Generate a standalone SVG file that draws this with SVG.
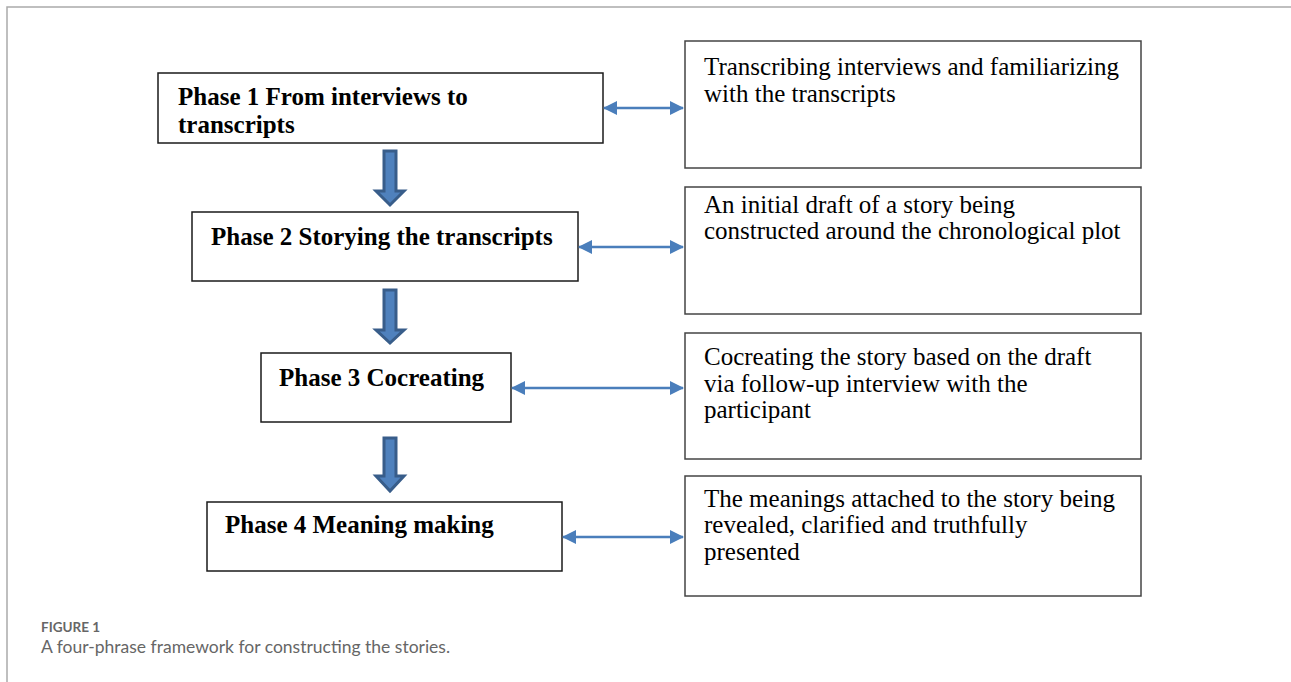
<svg xmlns="http://www.w3.org/2000/svg" width="1291" height="682" viewBox="0 0 1291 682">
<defs>
<style>
.box{fill:#fff;stroke:#1a1a1a;stroke-width:1.5}
.rbox{fill:#fff;stroke:#444;stroke-width:1.5}
.ph{font-family:"Liberation Serif","Times New Roman",serif;font-weight:bold;font-size:25px;fill:#000}
.desc{font-family:"Liberation Serif","Times New Roman",serif;font-size:25px;fill:#000}
.conn{stroke:#4a7ebb;stroke-width:2.5;fill:none;marker-start:url(#ah);marker-end:url(#ah)}
.down{fill:#4f81bd;stroke:#385d8a;stroke-width:3;stroke-linejoin:miter}
.cap{font-family:Lato,"Open Sans",sans-serif;fill:#666}
</style>
<marker id="ah" viewBox="0 0 14 14" refX="13" refY="7" markerWidth="14" markerHeight="14" markerUnits="userSpaceOnUse" orient="auto-start-reverse">
<path d="M0,0 L14,7 L0,14 Z" fill="#4a7ebb"/>
</marker>
</defs>
<rect width="1291" height="682" fill="#fff"/>
<path d="M7,682 V7 H1291" fill="none" stroke="#aaa" stroke-width="1.5"/>

<g id="phase1">
<rect class="box" x="158" y="73" width="445" height="70"/>
<text class="ph" x="178" y="105">Phase 1 From interviews to</text>
<text class="ph" x="178" y="133">transcripts</text>
</g>
<g id="desc1">
<rect class="rbox" x="685" y="41" width="456" height="127"/>
<text class="desc" x="704" y="75">Transcribing interviews and familiarizing</text>
<text class="desc" x="704" y="102">with the transcripts</text>
</g>
<g id="phase2">
<rect class="box" x="192" y="212" width="386" height="69"/>
<text class="ph" x="211" y="245">Phase 2 Storying the transcripts</text>
</g>
<g id="desc2">
<rect class="rbox" x="685" y="187" width="456" height="127"/>
<text class="desc" x="704" y="213">An initial draft of a story being</text>
<text class="desc" x="704" y="239">constructed around the chronological plot</text>
</g>
<g id="phase3">
<rect class="box" x="261" y="353" width="250" height="69"/>
<text class="ph" x="279" y="386">Phase 3 Cocreating</text>
</g>
<g id="desc3">
<rect class="rbox" x="685" y="333" width="456" height="126"/>
<text class="desc" x="704" y="365">Cocreating the story based on the draft</text>
<text class="desc" x="704" y="392">via follow-up interview with the</text>
<text class="desc" x="704" y="418">participant</text>
</g>
<g id="phase4">
<rect class="box" x="207" y="502" width="355" height="69"/>
<text class="ph" x="225" y="533">Phase 4 Meaning making</text>
</g>
<g id="desc4">
<rect class="rbox" x="685" y="476" width="456" height="120"/>
<text class="desc" x="704" y="507">The meanings attached to the story being</text>
<text class="desc" x="704" y="533">revealed, clarified and truthfully</text>
<text class="desc" x="704" y="560">presented</text>
</g>

<g id="connectors">
<path class="conn" d="M604,108 H683"/>
<path class="conn" d="M579,247 H683"/>
<path class="conn" d="M512,388 H683"/>
<path class="conn" d="M563,537 H683"/>
<polygon class="down" points="384,151 396,151 396,191 404,191 390,205 376,191 384,191"/>
<polygon class="down" points="384,290 396,290 396,330 404,330 390,343 376,330 384,330"/>
<polygon class="down" points="384,438 396,438 396,476 404,476 390,491 376,476 384,476"/>
</g>

<g id="caption">
<text class="cap" x="41" y="632" font-size="13.5" font-weight="bold">FIGURE 1</text>
<text class="cap" x="41" y="653" font-size="17.5">A four-phrase framework for constructing the stories.</text>
</g>
</svg>
